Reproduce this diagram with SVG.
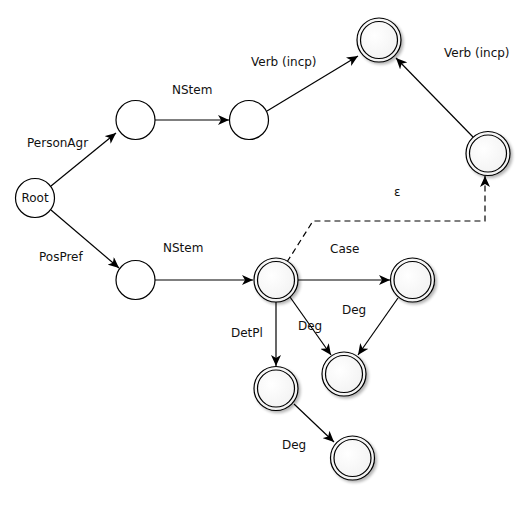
<svg xmlns="http://www.w3.org/2000/svg" width="528" height="507" viewBox="0 0 528 507">
<style>
text{font-family:"DejaVu Sans","Liberation Sans",sans-serif;font-size:12px;fill:#111}
.n{fill:#fff;stroke:#000;stroke-width:1.2}
.f{fill:url(#g);stroke:#000;stroke-width:1.2}
.e{fill:none;stroke:#000;stroke-width:1.2;marker-end:url(#a)}
.d{stroke-dasharray:6 4}
</style>
<defs>
<marker id="a" markerWidth="12" markerHeight="10" refX="11" refY="5" orient="auto" markerUnits="userSpaceOnUse">
<path d="M0,0 L11,5 L0,10 L3,5 Z" fill="#000"/>
</marker>
<radialGradient id="g" cx="0.4" cy="0.4" r="0.7"><stop offset="0" stop-color="#ffffff"/><stop offset="1" stop-color="#f0f0f0"/></radialGradient>
<filter id="s" x="-30%" y="-30%" width="170%" height="170%"><feGaussianBlur in="SourceAlpha" stdDeviation="1.5"/><feOffset dx="2" dy="2"/><feComponentTransfer><feFuncA type="linear" slope="0.3"/></feComponentTransfer><feMerge><feMergeNode/><feMergeNode in="SourceGraphic"/></feMerge></filter>
</defs>
<g id="edges">
<path class="e" d="M51,186 L116,133"/>
<path class="e" d="M155,120 L229,120"/>
<path class="e" d="M267,111 L358,56"/>
<path class="e" d="M473,137 L396,58"/>
<path class="e" d="M51,210 L119,268"/>
<path class="e" d="M155,280 L253,280"/>
<path class="e d" d="M287,262 L313,221 L485,221 L485,176"/>
<path class="e" d="M297,280 L390,280"/>
<path class="e" d="M276,302 L276,366"/>
<path class="e" d="M290,297 L331,355"/>
<path class="e" d="M398,298 L358,355"/>
<path class="e" d="M294,404 L334,442"/>
</g>
<g id="labels">
<text x="27" y="147">PersonAgr</text>
<text x="172" y="94">NStem</text>
<text x="251" y="66">Verb (incp)</text>
<text x="444" y="57">Verb (incp)</text>
<text x="394" y="196">ε</text>
<text x="39" y="261">PosPref</text>
<text x="163" y="252">NStem</text>
<text x="330" y="253">Case</text>
<text x="231" y="337">DetPl</text>
<text x="298" y="330">Deg</text>
<text x="342" y="314">Deg</text>
<text x="282" y="449">Deg</text>
</g>
<g id="root"><circle class="n" cx="35" cy="198" r="19.5"/><text x="35" y="202" text-anchor="middle">Root</text></g>
<g id="q1"><circle class="n" cx="135.5" cy="120" r="19.5"/></g>
<g id="q2"><circle class="n" cx="249" cy="120" r="19.5"/></g>
<g id="q3"><circle class="n" cx="135.5" cy="280" r="19.5"/></g>
<g id="f1" filter="url(#s)"><circle class="f" cx="379" cy="40" r="22"/><circle fill="none" stroke="#000" stroke-width="1.2" cx="379" cy="40" r="18.5"/></g>
<g id="f2" filter="url(#s)"><circle class="f" cx="488" cy="153.5" r="22"/><circle fill="none" stroke="#000" stroke-width="1.2" cx="488" cy="153.5" r="18.5"/></g>
<g id="f3" filter="url(#s)"><circle class="f" cx="276" cy="280" r="22"/><circle fill="none" stroke="#000" stroke-width="1.2" cx="276" cy="280" r="18.5"/></g>
<g id="f4" filter="url(#s)"><circle class="f" cx="412.5" cy="280" r="22"/><circle fill="none" stroke="#000" stroke-width="1.2" cx="412.5" cy="280" r="18.5"/></g>
<g id="f5" filter="url(#s)"><circle class="f" cx="344" cy="374" r="22"/><circle fill="none" stroke="#000" stroke-width="1.2" cx="344" cy="374" r="18.5"/></g>
<g id="f6" filter="url(#s)"><circle class="f" cx="276" cy="388.5" r="22"/><circle fill="none" stroke="#000" stroke-width="1.2" cx="276" cy="388.5" r="18.5"/></g>
<g id="f7" filter="url(#s)"><circle class="f" cx="352.5" cy="458" r="22"/><circle fill="none" stroke="#000" stroke-width="1.2" cx="352.5" cy="458" r="18.5"/></g>
</svg>
